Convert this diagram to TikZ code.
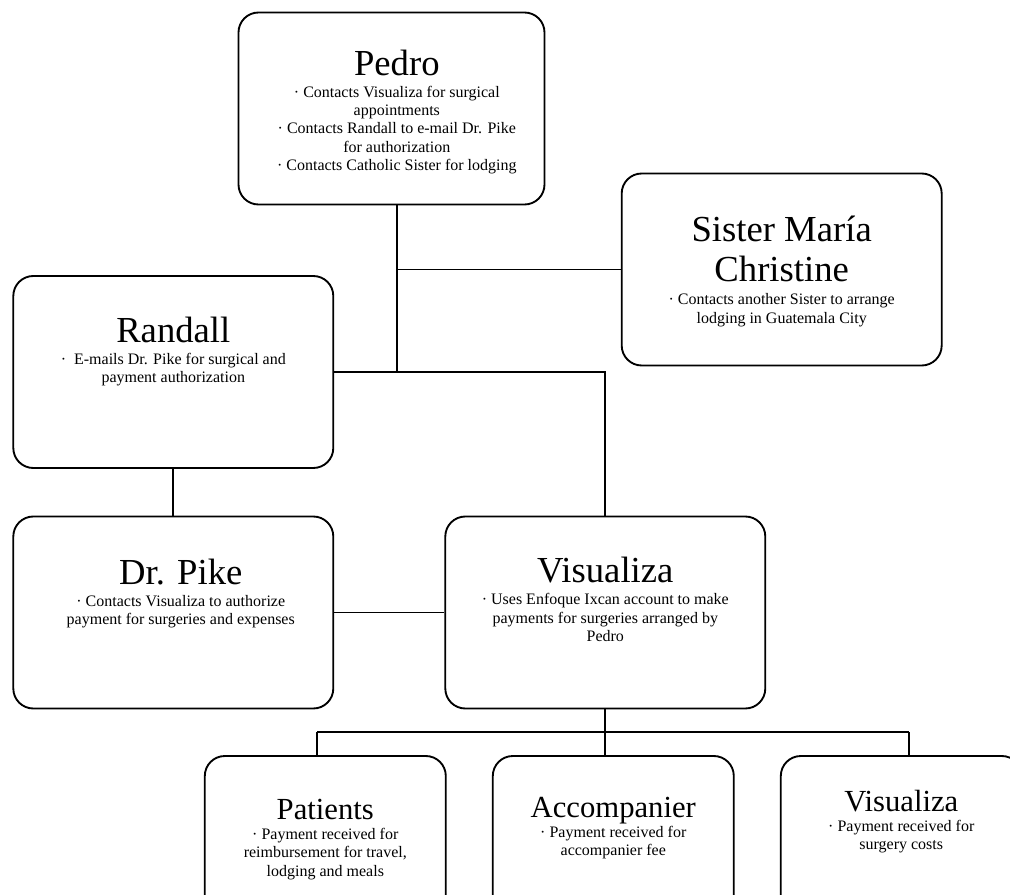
\documentclass[tikz,border=0pt]{standalone}
\usepackage{fontspec}
\setmainfont{Liberation Serif}
\usetikzlibrary{positioning}
\newcommand{\hd}[1]{{\fontsize{27.5}{29.25}\selectfont #1}}
\newcommand{\shd}[1]{{\fontsize{23}{26}\selectfont #1}}

\begin{document}
\begin{tikzpicture}[x=0.75pt,y=-0.75pt]
\tikzstyle{card}=[draw, line width=1.4pt, rounded corners=15pt, minimum width=240pt, minimum height=144pt, inner sep=0pt]
\tikzstyle{small}=[card, minimum width=180.75pt]
\tikzstyle{txt}=[align=center, inner sep=0pt, font=\fontsize{12}{13.75}\selectfont]
\tikzstyle{wire}=[line width=1.4pt]

\useasboundingbox (0,0) rectangle (1010,895);
\clip (0,0) rectangle (1010,895);

% boxes
\node[card, minimum width=229.5pt] (pedro) at (391.5,108.5) {};
\node[card] (sister) at (781.7,269.5) {};
\node[card] (randall) at (173.3,372) {};
\node[card] (pike) at (173.3,612.5) {};
\node[card] (visualiza) at (605.3,612.5) {};
\node[small] (patients) at (325.3,852) {};
\node[small] (accomp) at (613.3,852) {};
\node[small] (visual2) at (901.3,852) {};

% texts
\node[txt, below=28.5pt of pedro.north, xshift=4pt] (pedroTxt) {\hd{Pedro}\\[2.75pt]
  · Contacts Visualiza for surgical\\ appointments\\
  · Contacts Randall to e-mail Dr. Pike\\ for authorization\\
  · Contacts Catholic Sister for lodging};
\node[txt, below=32.25pt of sister.north] (sisterTxt) {\hd{Sister María}\\[9.5pt] \hd{Christine}\\[4pt]
  · Contacts another Sister to arrange\\ lodging in Guatemala City};
\node[txt, below=31.3pt of randall.north] (randallTxt) {\hd{Randall}\\[2.75pt]
  ·\ \ E-mails Dr. Pike for surgical and\\ payment authorization};
\node[txt, below=32.5pt of pike.north, xshift=5.6pt] (pikeTxt) {\hd{Dr. Pike}\\[2.75pt]
  · Contacts Visualiza to authorize\\ payment for surgeries and expenses};
\node[txt, below=31.2pt of visualiza.north] (visualizaTxt) {\hd{Visualiza}\\[2.75pt]
  · Uses Enfoque Ixcan account to make\\ payments for surgeries arranged by\\ Pedro};
\node[txt, below=32.6pt of patients.north] (patientsTxt) {\shd{Patients}\\[1.5pt]
  · Payment received for\\ reimbursement for travel,\\ lodging and meals};
\node[txt, below=31.2pt of accomp.north] (accompTxt) {\shd{Accompanier}\\[1.5pt]
  · Payment received for\\ accompanier fee};
\node[txt, below=26pt of visual2.north] (visual2Txt) {\shd{Visualiza}\\[1.5pt]
  · Payment received for\\ surgery costs};

% connectors
\coordinate (trunk) at (397,372);
\coordinate (busL) at (317,732);
\coordinate (busR) at (909,732);
\draw[wire] (pedro.south -| trunk) -- (trunk |- randall.east);
\draw[wire] (trunk |- sister.west) -- (sister.west);
\draw[wire] (randall.east) -| (visualiza.north);
\draw[wire] (randall) -- (pike);
\draw[wire] (pike) -- (visualiza);
\draw[wire] (visualiza.south) -- (visualiza.south |- accomp.north);
\draw[wire] (busL) -- (busR);
\draw[wire] (busL) -- (busL |- patients.north);
\draw[wire] (busR) -- (busR |- visual2.north);
\end{tikzpicture}
\end{document}
